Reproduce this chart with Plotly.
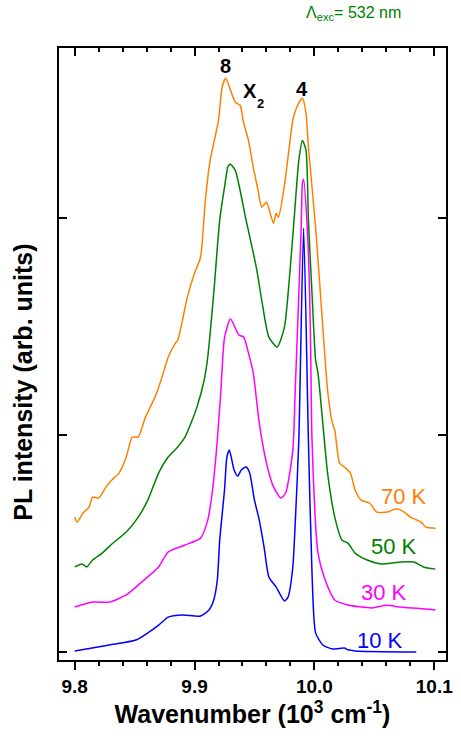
import plotly.graph_objects as go

FONT = "Liberation Sans, Arial, sans-serif"

# ---- data (wavenumber in 10^3 cm^-1, PL intensity in arb. units, curves offset) ----
x_10K = [9.800, 9.829, 9.851, 9.861, 9.870, 9.878, 9.890, 9.905, 9.912, 9.916, 9.919, 9.921,
         9.925, 9.927, 9.929, 9.933, 9.936, 9.939, 9.943, 9.946, 9.950, 9.954, 9.958, 9.962,
         9.968, 9.975, 9.978, 9.982, 9.984, 9.987, 9.991, 9.995, 9.998, 10.001, 10.007,
         10.015, 10.025, 10.028, 10.034, 10.085]
y_10K = [0.005, 0.032, 0.055, 0.088, 0.124, 0.161, 0.171, 0.166, 0.194, 0.240, 0.332, 0.516,
         0.747, 0.899, 0.931, 0.839, 0.811, 0.839, 0.853, 0.825, 0.700, 0.608, 0.484, 0.346,
         0.300, 0.235, 0.253, 0.392, 0.594, 0.977, 1.954, 0.977, 0.364, 0.088, 0.032,
         0.014, 0.018, 0.010, 0.005, 0.000]

x_30K = [9.800, 9.815, 9.829, 9.843, 9.856, 9.870, 9.878, 9.892, 9.905, 9.911, 9.915, 9.919,
         9.922, 9.925, 9.930, 9.937, 9.941, 9.945, 9.949, 9.954, 9.960, 9.966, 9.972, 9.976,
         9.982, 9.984, 9.989, 9.990, 9.991, 9.994, 9.996, 9.997, 9.998, 10.003, 10.009,
         10.017, 10.028, 10.048, 10.060, 10.072, 10.101]
y_30K = [0.207, 0.230, 0.230, 0.263, 0.323, 0.392, 0.461, 0.493, 0.525, 0.608, 0.747, 0.977,
         1.207, 1.450, 1.535, 1.461, 1.452, 1.378, 1.286, 1.055, 0.871, 0.760, 0.710, 0.733,
         0.931, 1.207, 1.959, 2.161, 2.180, 1.959, 1.654, 1.346, 0.977, 0.456, 0.332,
         0.240, 0.217, 0.203, 0.215, 0.207, 0.194]

x_50K = [9.800, 9.806, 9.810, 9.815, 9.823, 9.831, 9.843, 9.853, 9.861, 9.870, 9.878, 9.886,
         9.892, 9.897, 9.902, 9.908, 9.911, 9.916, 9.921, 9.925, 9.928, 9.930, 9.934, 9.938,
         9.943, 9.948, 9.952, 9.957, 9.962, 9.969, 9.975, 9.979, 9.983, 9.987, 9.990, 9.993,
         9.995, 9.998, 10.001, 10.003, 10.007, 10.011, 10.017, 10.023, 10.028, 10.034,
         10.044, 10.056, 10.072, 10.083, 10.091, 10.101]
y_50K = [0.392, 0.406, 0.392, 0.424, 0.456, 0.498, 0.553, 0.622, 0.700, 0.825, 0.899, 0.945,
         0.991, 1.055, 1.129, 1.253, 1.359, 1.654, 1.991, 2.143, 2.240, 2.249, 2.221, 2.129,
         1.991, 1.866, 1.760, 1.590, 1.452, 1.406, 1.498, 1.714, 1.991, 2.267, 2.359, 2.313,
         1.991, 1.654, 1.346, 1.286, 1.055, 0.825, 0.622, 0.516, 0.502, 0.456,
         0.424, 0.406, 0.415, 0.415, 0.392, 0.382]

x_70K = [9.800, 9.802, 9.807, 9.812, 9.815, 9.820, 9.826, 9.831, 9.837, 9.843, 9.848, 9.853,
         9.859, 9.867, 9.872, 9.878, 9.884, 9.886, 9.894, 9.900, 9.905, 9.909, 9.913, 9.916,
         9.920, 9.923, 9.926, 9.930, 9.934, 9.938, 9.941, 9.945, 9.949, 9.953, 9.956, 9.960,
         9.964, 9.966, 9.968, 9.970, 9.975, 9.979, 9.982, 9.986, 9.990, 9.993, 9.995,
         10.001, 10.007, 10.009, 10.011, 10.015, 10.017, 10.021, 10.025, 10.030, 10.034,
         10.039, 10.046, 10.052, 10.061, 10.068, 10.075, 10.080, 10.089, 10.093, 10.101]
y_70K = [0.622, 0.599, 0.641, 0.668, 0.714, 0.710, 0.760, 0.793, 0.825, 0.899, 0.991, 0.991,
         1.083, 1.175, 1.253, 1.359, 1.424, 1.438, 1.636, 1.747, 1.820, 2.083, 2.267, 2.346,
         2.452, 2.604, 2.645, 2.590, 2.535, 2.521, 2.438, 2.359, 2.235, 2.129, 2.051, 2.074,
         2.005, 1.977, 2.023, 2.005, 2.152, 2.327, 2.452, 2.521, 2.553, 2.484, 2.327,
         1.959, 1.498, 1.346, 1.207, 1.055, 1.023, 0.871, 0.853, 0.825, 0.747,
         0.700, 0.687, 0.645, 0.645, 0.660, 0.645, 0.622, 0.599, 0.576, 0.571]

series = [
    ("10 K", x_10K, y_10K, "#0000FF", 10.0545, 0.055),
    ("30 K", x_30K, y_30K, "#FF00FF", 10.058, 0.272),
    ("50 K", x_50K, y_50K, "#008000", 10.066, 0.488),
    ("70 K", x_70K, y_70K, "#FF8000", 10.075, 0.719),
]

peak_labels = [("8", 9.926, 2.700, 20), ("X", 9.9463, 2.588, 20), ("2", 9.9553, 2.530, 13),
               ("4", 9.9898, 2.594, 20)]

x_range = [9.7869, 10.1098]
y_range = [-0.037, 2.785]
x_ticks = [9.8, 9.9, 10.0, 10.1]
y_ticks = [0, 1, 2]

fig = go.Figure()
annotations = []
for name, xs, ys, col, lx, ly in series:
    fig.add_trace(go.Scatter(x=xs, y=ys, mode="lines", name=name,
                             line=dict(color=col, width=1.5, shape="spline", smoothing=0.6),
                             showlegend=False))
    annotations.append(dict(x=lx, y=ly, xref="x", yref="y", text=name, showarrow=False,
                            xanchor="center", yanchor="middle",
                            font=dict(family=FONT, size=22, color=col)))

# dummy trace to activate the top axis
fig.add_trace(go.Scatter(x=[x_ticks[0]], y=[None], xaxis="x2", mode="lines",
                         showlegend=False, hoverinfo="skip"))

for txt, lx, ly, sz in peak_labels:
    annotations.append(dict(x=lx, y=ly, xref="x", yref="y", text="<b>%s</b>" % txt,
                            showarrow=False, xanchor="center", yanchor="middle",
                            font=dict(family=FONT, size=sz, color="black")))

annotations.append(dict(x=0.761, y=1.057, xref="paper", yref="paper",
                        text="Λ<sub>exc</sub>= 532 nm", showarrow=False,
                        xanchor="center", yanchor="middle",
                        font=dict(family="Liberation Sans, Arial", size=16, color="#008000")))
annotations.append(dict(x=-0.0914, y=0.454, xref="paper", yref="paper",
                        text="<b>PL intensity (arb. units)</b>", showarrow=False,
                        textangle=-90, xanchor="center", yanchor="middle",
                        font=dict(family=FONT, size=25, color="black")))

fig.update_layout(
    width=461, height=741,
    margin=dict(l=59, r=8, t=48, b=81),
    paper_bgcolor="white", plot_bgcolor="white",
    annotations=annotations,
    xaxis=dict(range=x_range, tickvals=x_ticks, tickformat=".1f",
               ticks="outside", ticklen=8, tickwidth=1.5, tickcolor="black",
               minor=dict(dtick=0.02, tick0=9.8, ticks="outside", ticklen=4,
                          tickwidth=1.5, tickcolor="black"),
               showline=True, linecolor="black", linewidth=1.5, mirror=True,
               showgrid=False, zeroline=False,
               tickfont=dict(family=FONT, size=19, color="black", weight="bold"),
               title=dict(text="<b>Wavenumber (10<sup>3</sup> cm<sup>-1</sup>)</b>",
                          font=dict(family=FONT, size=25, color="black"), standoff=10)),
    xaxis2=dict(range=x_range, overlaying="x", side="top", tickvals=x_ticks,
                ticks="inside", ticklen=8, tickwidth=1.5, tickcolor="black",
                minor=dict(dtick=0.02, tick0=9.8, ticks="inside", ticklen=4,
                           tickwidth=1.5, tickcolor="black"),
                showticklabels=False, showgrid=False, zeroline=False, showline=False),
    yaxis=dict(range=y_range, tickvals=y_ticks, showticklabels=False,
               ticks="inside", ticklen=8, tickwidth=1.5, tickcolor="black",
               showline=True, linecolor="black", linewidth=1.5, mirror="ticks",
               showgrid=False, zeroline=False),
)

fig.write_html("out.html")
